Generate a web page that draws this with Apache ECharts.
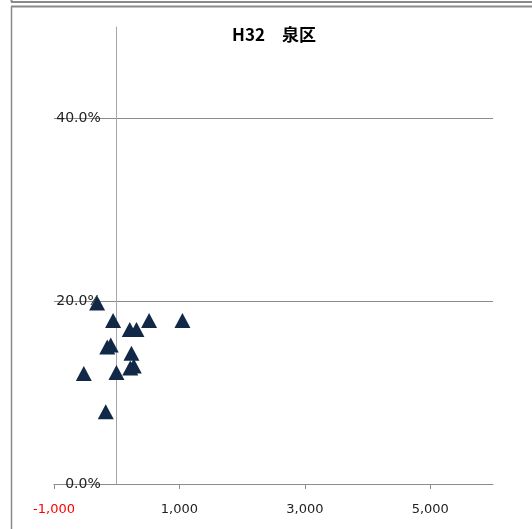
<!DOCTYPE html>
<html>
<head>
<meta charset="utf-8">
<script src="https://cdn.jsdelivr.net/npm/echarts@6/dist/echarts.min.js"></script>
<style>
  html, body { margin: 0; padding: 0; background: #ffffff; }
  #chart { width: 532px; height: 529px; }
</style>
</head>
<body>
<div id="chart"></div>
<script>
// Chart title
const titleText = 'H32\u3000泉区';

// Scatter points: x value and rate (fraction)
const xValues = [-313, -58, 208, 315, 516, 1048, -151, -95, 235, 272, 216, -4, -525, -175];
const yValues = [0.198, 0.179, 0.169, 0.169, 0.179, 0.179, 0.150, 0.152, 0.143, 0.129, 0.127, 0.122, 0.121, 0.079];

// Axis ticks
const xTicks = [-1000, 1000, 3000, 5000];
const yTicks = [0, 0.2, 0.4];

const xMin = -1000;
const xMax = 6000;

const points = xValues.map((x, i) => [x, yValues[i]]);

const frameColor = '#8a8a8a';
const gridColor = '#8c8c8c';

const gridLeft = 54;
const gridRight = 39;
const chartWidth = 532;
// the vertical axis sits at x = 0 of the horizontal axis
const yAxisShift = -((0 - xMin) / (xMax - xMin)) * (chartWidth - gridLeft - gridRight);

const chart = echarts.init(document.getElementById('chart'), null, { renderer: 'canvas' });

chart.setOption({
  animation: false,
  backgroundColor: '#ffffff',
  title: {
    text: titleText,
    left: 269,
    top: 21,
    textAlign: 'center',
    textStyle: {
      fontFamily: '"Noto Sans CJK JP", "Noto Sans", sans-serif',
      fontSize: 17,
      fontWeight: 'bold',
      color: '#000000'
    }
  },
  grid: {
    left: gridLeft,
    right: gridRight,
    top: 27,
    bottom: 45,
    containLabel: false,
    outerBoundsMode: 'none'
  },
  xAxis: {
    type: 'value',
    min: xMin,
    max: xMax,
    axisLine: { show: true, onZero: true, lineStyle: { color: gridColor, width: 1 } },
    axisTick: {
      show: true,
      inside: false,
      length: 5,
      customValues: xTicks,
      lineStyle: { color: gridColor, width: 1 }
    },
    axisLabel: {
      customValues: xTicks,
      margin: 19,
      fontFamily: '"DejaVu Sans", sans-serif',
      fontSize: 13,
      color: (v) => (v < 0 ? '#ff0000' : '#222222'),
      formatter: (v) => Number(v).toLocaleString('en-US')
    },
    splitLine: { show: false }
  },
  yAxis: {
    type: 'value',
    min: 0,
    max: 0.5,
    offset: yAxisShift,
    axisLine: { show: true, onZero: false, lineStyle: { color: '#a6a6a6', width: 1 } },
    axisTick: { show: false, customValues: yTicks },
    axisLabel: {
      customValues: yTicks,
      margin: 16,
      fontFamily: '"DejaVu Sans", sans-serif',
      fontSize: 14,
      color: '#222222',
      formatter: (v) => (v * 100).toFixed(1) + '%'
    },
    splitLine: { show: true, lineStyle: { color: gridColor, width: 1 } }
  },
  series: [{
    type: 'scatter',
    data: points,
    symbol: 'triangle',
    symbolSize: [16, 15],
    itemStyle: { color: '#112847', opacity: 1 },
    z: 5
  }],
  graphic: [
    // frame of the chart box and the one above it
    { type: 'line', shape: { x1: 11.5, y1: 0, x2: 11.5, y2: 2 }, style: { stroke: frameColor, lineWidth: 2 } },
    { type: 'line', shape: { x1: 11, y1: 2, x2: 532, y2: 2 }, style: { stroke: frameColor, lineWidth: 2 } },
    { type: 'line', shape: { x1: 11, y1: 6.5, x2: 532, y2: 6.5 }, style: { stroke: frameColor, lineWidth: 2 } },
    { type: 'line', shape: { x1: 11.5, y1: 6.5, x2: 11.5, y2: 529 }, style: { stroke: frameColor, lineWidth: 1.5 } }
  ]
});
</script>
</body>
</html>
